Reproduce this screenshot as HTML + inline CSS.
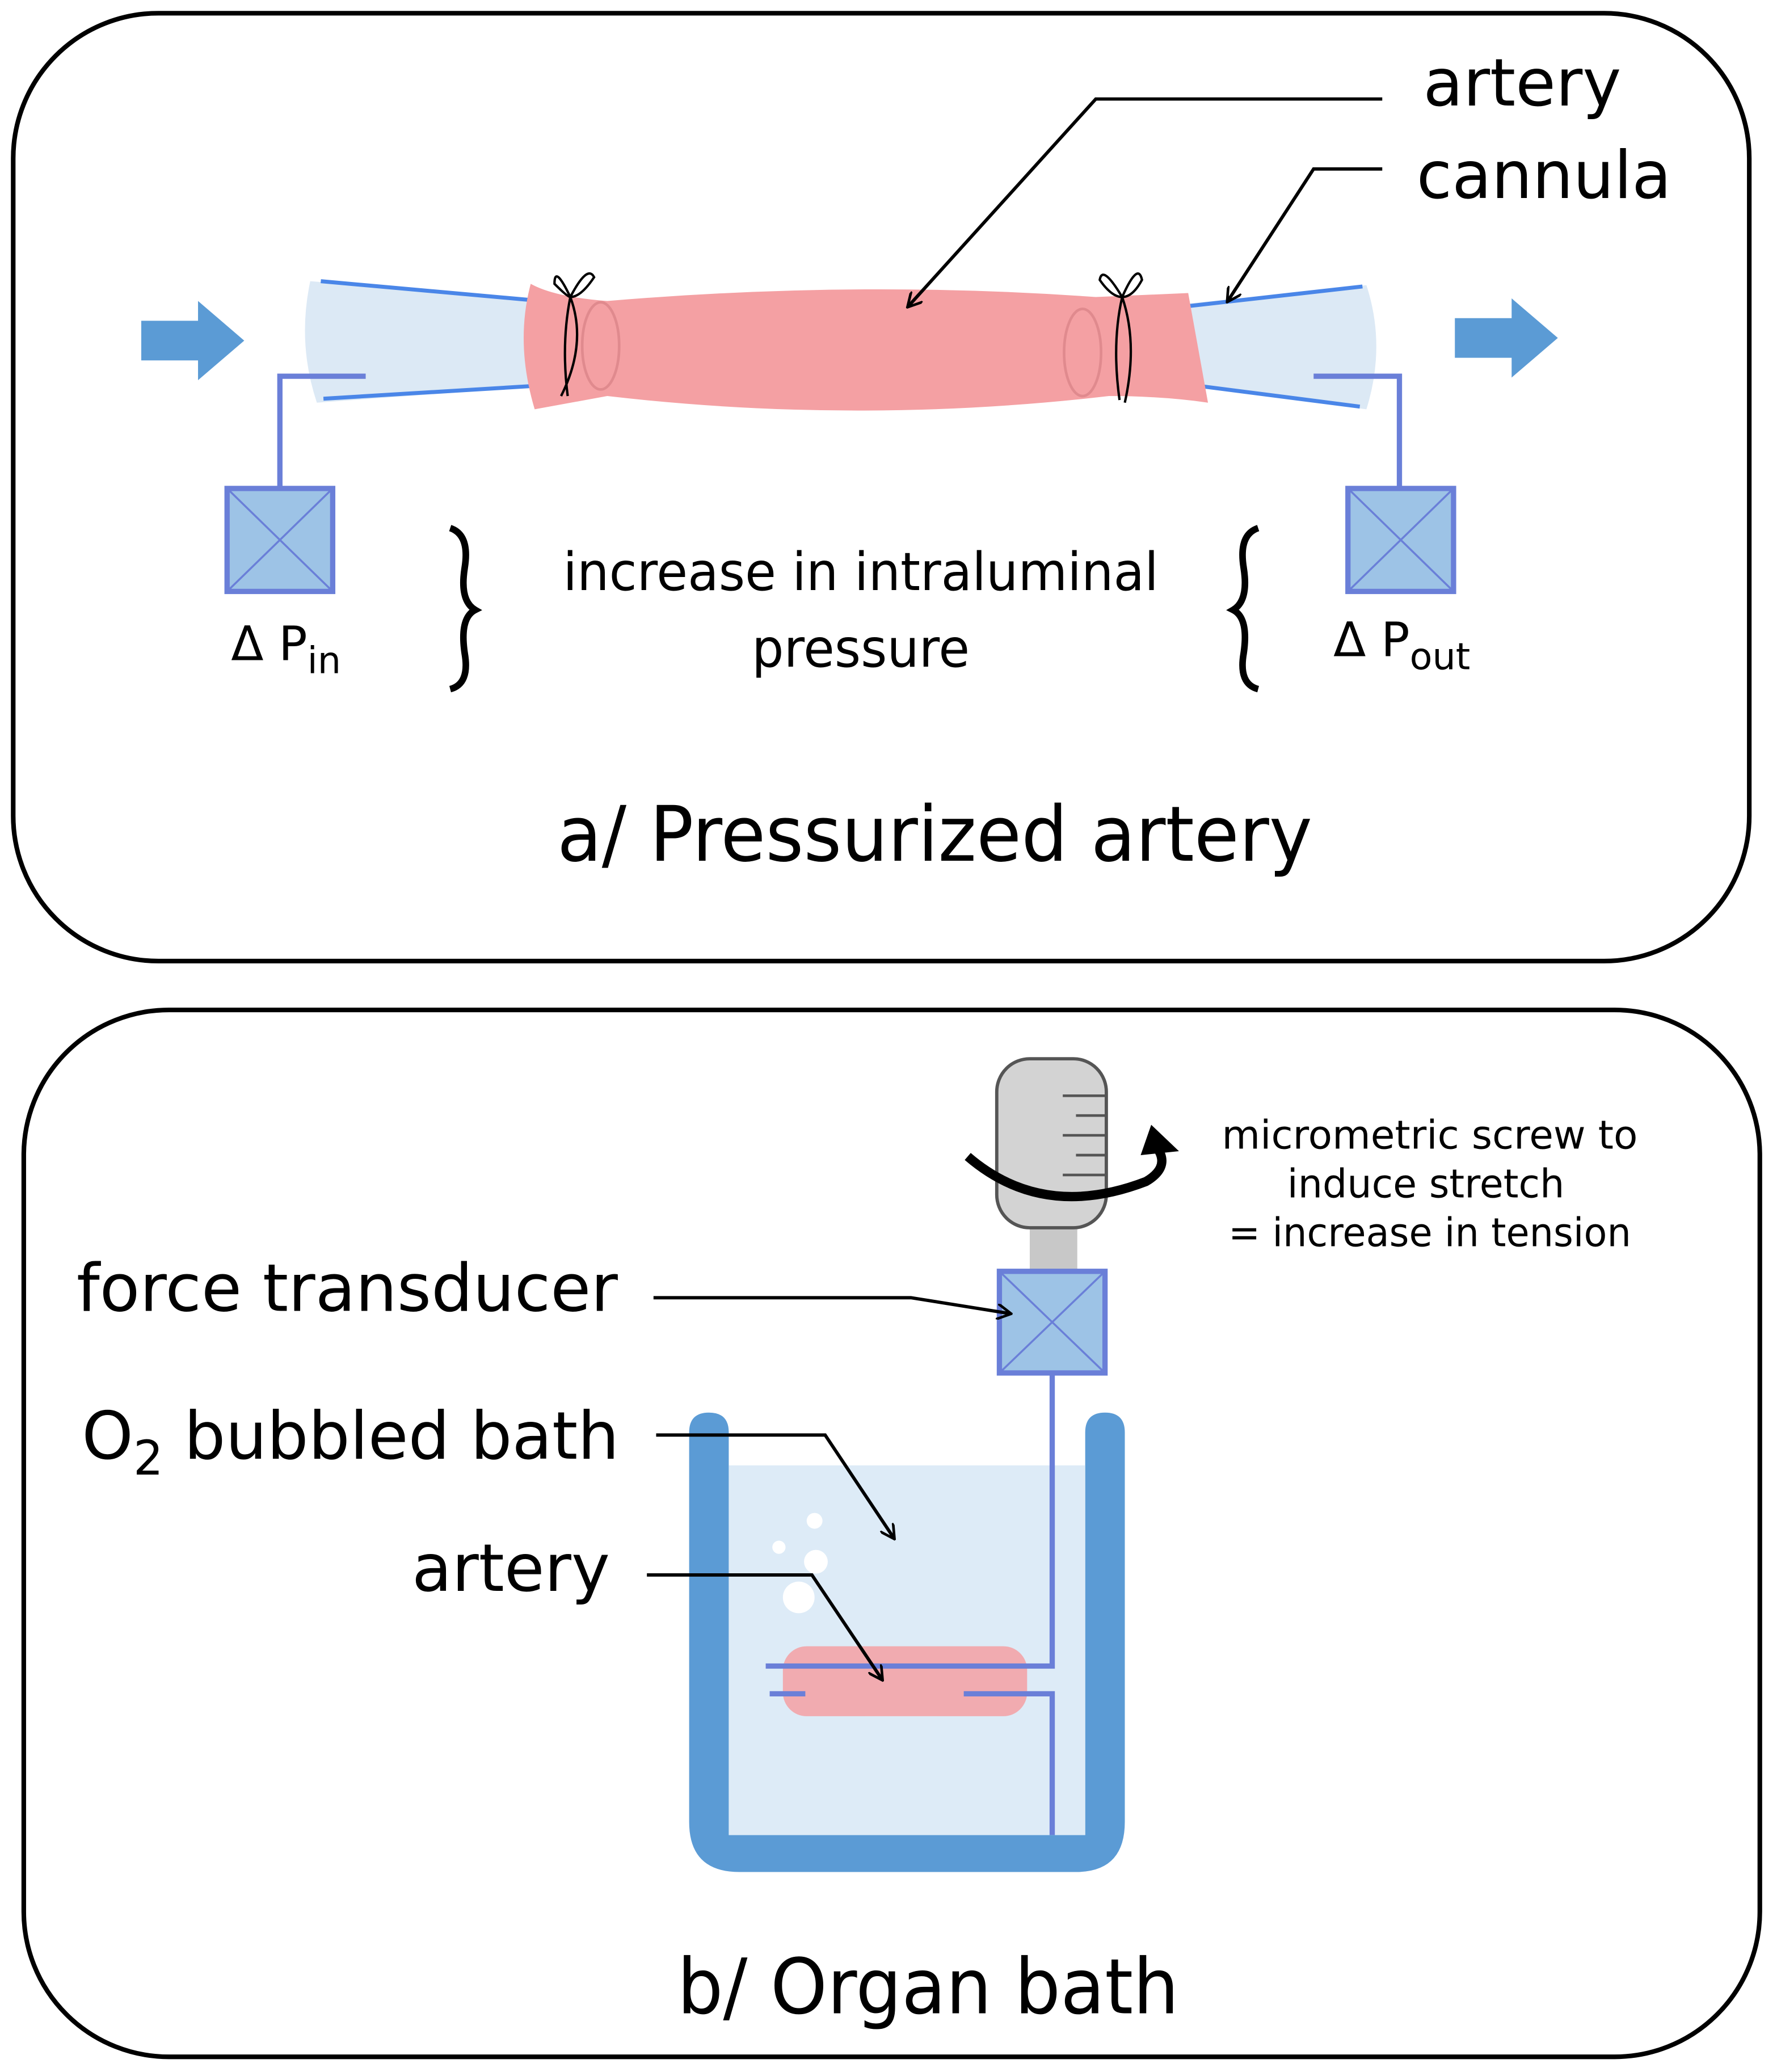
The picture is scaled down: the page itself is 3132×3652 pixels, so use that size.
<!DOCTYPE html>
<html><head><meta charset="utf-8"><style>html,body{margin:0;padding:0;background:#fff}svg{display:block}text{font-family:"DejaVu Sans","Liberation Sans",sans-serif;fill:#000}</style></head>
<body>
<svg width="3132" height="3652" viewBox="0 0 1346 1569.5" preserveAspectRatio="none" xmlns="http://www.w3.org/2000/svg">
<defs>
<marker id="ah" markerWidth="12" markerHeight="12" refX="10" refY="6" orient="auto" markerUnits="userSpaceOnUse"><path d="M0,0 L11,6 L0,12" fill="none" stroke="#000" stroke-width="2"/></marker>
</defs>
<rect x="10" y="10" width="1315" height="718" rx="110" fill="#fff" stroke="#000" stroke-width="3.5"/>
<rect x="18" y="765" width="1315" height="793" rx="110" fill="#fff" stroke="#000" stroke-width="3.5"/>

<!-- arrows -->
<path d="M107,243 H150 V228 L185,258 L150,288 V273 H107 Z" fill="#5b9bd5"/>
<path d="M1102,241 H1145 V226 L1180,256 L1145,286 V271 H1102 Z" fill="#5b9bd5"/>

<!-- cannulas -->
<path d="M235,213 L420,228 L420,292 L240,305 Q225,260 235,213 Z" fill="#dce9f5"/>
<path d="M880,232 L1035,216 Q1050,262 1035,310 L880,290 Z" fill="#dce9f5"/>
<line x1="243" y1="213" x2="410" y2="228" stroke="#4a86e8" stroke-width="3"/>
<line x1="245" y1="302" x2="410" y2="292" stroke="#4a86e8" stroke-width="3"/>
<line x1="890" y1="233" x2="1032" y2="217" stroke="#4a86e8" stroke-width="3"/>
<line x1="890" y1="290" x2="1030" y2="308" stroke="#4a86e8" stroke-width="3"/>

<!-- artery -->
<path d="M402,215 Q420,225 460,228 Q650,212 830,225 L900,222 L915,305 Q880,300 840,300 Q650,322 460,300 L405,310 Q390,260 402,215 Z" fill="#f4a0a3"/>
<ellipse cx="455" cy="262" rx="14" ry="33" fill="none" stroke="#e08a8e" stroke-width="2"/>
<ellipse cx="820" cy="267" rx="14" ry="33" fill="none" stroke="#e08a8e" stroke-width="2"/>
<path d="M432,225 Q420,200 420,215 Q430,225 432,225 Q445,200 450,210 Q440,225 432,225 Q425,260 430,300 M432,225 Q445,260 425,300" fill="none" stroke="#000" stroke-width="1.8"/>
<path d="M850,225 Q835,200 833,212 Q842,225 850,225 Q862,198 865,212 Q858,225 850,225 Q842,260 848,303 M850,225 Q862,260 852,305" fill="none" stroke="#000" stroke-width="1.8"/>

<!-- pressure sensors -->
<path d="M277,285 H212 V370" fill="none" stroke="#6a7fd8" stroke-width="4"/>
<path d="M995,285 H1060 V370" fill="none" stroke="#6a7fd8" stroke-width="4"/>
<g stroke="#6a7fd8" stroke-width="4" fill="#9dc3e6">
<rect x="172" y="370" width="80" height="78"/>
<rect x="1021" y="370" width="80" height="78"/>
</g>
<g stroke="#6a7fd8" stroke-width="1.5">
<line x1="172" y1="370" x2="252" y2="448"/><line x1="252" y1="370" x2="172" y2="448"/>
<line x1="1021" y1="370" x2="1101" y2="448"/><line x1="1101" y1="370" x2="1021" y2="448"/>
</g>
<text x="175" y="500" font-size="36">Δ P<tspan font-size="28" dy="10">in</tspan></text>
<text x="1010" y="497" font-size="36">Δ P<tspan font-size="28" dy="10">out</tspan></text>

<!-- braces -->
<path d="M341,400 Q356,405 352,430 Q348,455 360,462 Q348,468 352,495 Q356,518 341,522" fill="none" stroke="#000" stroke-width="5"/>
<path d="M953,400 Q938,405 942,430 Q946,455 934,462 Q946,468 942,495 Q938,518 953,522" fill="none" stroke="#000" stroke-width="5"/>
<text x="652" y="447" font-size="40" text-anchor="middle" textLength="451" lengthAdjust="spacingAndGlyphs">increase in intraluminal</text>
<text x="652" y="505" font-size="40" text-anchor="middle" textLength="165" lengthAdjust="spacingAndGlyphs">pressure</text>
<text x="708" y="652" font-size="58" text-anchor="middle" textLength="572" lengthAdjust="spacingAndGlyphs">a/ Pressurized artery</text>

<text x="1078" y="80" font-size="50" textLength="150" lengthAdjust="spacingAndGlyphs">artery</text>
<text x="1073" y="150" font-size="50" textLength="193" lengthAdjust="spacingAndGlyphs">cannula</text>
<path d="M1047,75 H830 L688,232" fill="none" stroke="#000" stroke-width="2.5" marker-end="url(#ah)"/>
<path d="M1047,128 H995 L930,228" fill="none" stroke="#000" stroke-width="2.5" marker-end="url(#ah)"/>

<!-- panel b -->
<rect x="780" y="925" width="36" height="40" fill="#c8c8c8"/>
<rect x="755" y="802" width="83" height="128" rx="25" fill="#d3d3d3" stroke="#555" stroke-width="2.5"/>
<g stroke="#555" stroke-width="2">
<line x1="805" y1="830" x2="838" y2="830"/><line x1="815" y1="845" x2="838" y2="845"/><line x1="805" y1="860" x2="838" y2="860"/><line x1="815" y1="875" x2="838" y2="875"/><line x1="805" y1="890" x2="838" y2="890"/><line x1="815" y1="905" x2="838" y2="905"/>
</g>
<path d="M733,876 Q790,925 868,895 Q885,885 878,872" fill="none" stroke="#000" stroke-width="7"/>
<path d="M864,875 L872,852 L893,872 Z" fill="#000"/>
<text x="1083" y="870" font-size="30" text-anchor="middle" textLength="315" lengthAdjust="spacingAndGlyphs">micrometric screw to</text>
<text x="1080" y="907" font-size="30" text-anchor="middle" textLength="210" lengthAdjust="spacingAndGlyphs">induce stretch</text>
<text x="1083" y="944" font-size="30" text-anchor="middle" textLength="305" lengthAdjust="spacingAndGlyphs">= increase in tension</text>

<!-- bath -->
<path d="M522,1085 Q522,1070 537,1070 Q552,1070 552,1085 V1390 H822 V1085 Q822,1070 837,1070 Q852,1070 852,1085 V1380 Q852,1418 815,1418 H560 Q522,1418 522,1380 Z" fill="#5b9bd5"/>
<rect x="552" y="1110" width="270" height="280" fill="#ddebf7"/>
<g fill="#fff"><circle cx="617" cy="1152" r="6"/><circle cx="590" cy="1172" r="5"/><circle cx="618" cy="1183" r="9"/><circle cx="605" cy="1210" r="12"/></g>
<rect x="593" y="1247" width="185" height="53" rx="18" fill="#f4a0a3" opacity="0.85"/>
<path d="M797,1040 V1262 H580" fill="none" stroke="#6a7fd8" stroke-width="4"/>
<path d="M583,1283 H610 M730,1283 H797 V1390" fill="none" stroke="#6a7fd8" stroke-width="4"/>
<rect x="757" y="963" width="80" height="77" fill="#9dc3e6" stroke="#6a7fd8" stroke-width="4"/>
<g stroke="#6a7fd8" stroke-width="1.5"><line x1="757" y1="963" x2="837" y2="1040"/><line x1="837" y1="963" x2="757" y2="1040"/></g>

<text x="58" y="993" font-size="50" textLength="410" lengthAdjust="spacingAndGlyphs">force transducer</text>
<text x="62" y="1105" font-size="50" textLength="407" lengthAdjust="spacingAndGlyphs">O<tspan font-size="36" dy="12">2</tspan><tspan dy="-12"> bubbled bath</tspan></text>
<text x="312" y="1205" font-size="50" textLength="150" lengthAdjust="spacingAndGlyphs">artery</text>
<path d="M495,983 H690 L765,995" fill="none" stroke="#000" stroke-width="2.5" marker-end="url(#ah)"/>
<path d="M497,1087 H625 L677,1165" fill="none" stroke="#000" stroke-width="2.5" marker-end="url(#ah)"/>
<path d="M490,1193 H615 L668,1272" fill="none" stroke="#000" stroke-width="2.5" marker-end="url(#ah)"/>
<text x="703" y="1525" font-size="58" text-anchor="middle" textLength="380" lengthAdjust="spacingAndGlyphs">b/ Organ bath</text>
</svg>
</body></html>
